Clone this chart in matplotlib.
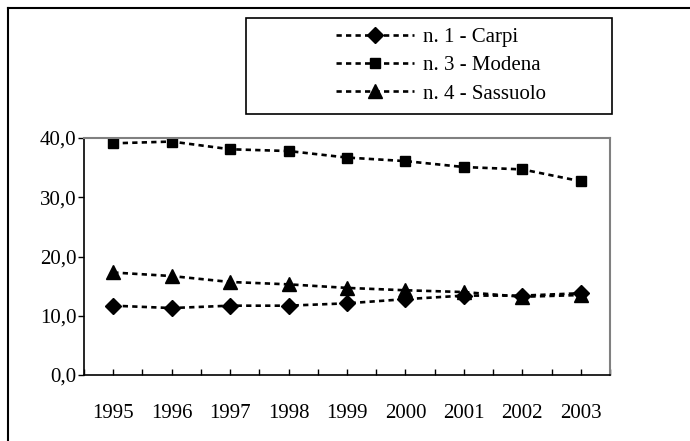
import matplotlib.pyplot as plt
import numpy as np
from matplotlib.lines import Line2D
from matplotlib.patches import Rectangle
from matplotlib.ticker import FuncFormatter

plt.rcParams['font.family'] = ['Liberation Serif', 'DejaVu Serif']

# Dati
anni = ['1995', '1996', '1997', '1998', '1999', '2000', '2001', '2002', '2003']
carpi = [11.7, 11.3, 11.7, 11.7, 12.1, 12.8, 13.4, 13.4, 13.8]
modena = [39.1, 39.4, 38.1, 37.8, 36.7, 36.1, 35.1, 34.7, 32.7]
sassuolo = [17.3, 16.7, 15.7, 15.3, 14.7, 14.3, 14.0, 13.2, 13.5]

serie = [
    ('n. 1 - Carpi', carpi, 'D', 8.5),
    ('n. 3 - Modena', modena, 's', 7.5),
    ('n. 4 - Sassuolo', sassuolo, '^', 9.5),
]

W, H = 690, 441
fig = plt.figure(figsize=(W / 100, H / 100), dpi=100)
ax = fig.add_axes([84 / W, 1 - 375 / H, (610 - 84) / W, (375 - 138) / H])

x = np.arange(len(anni))
for nome, valori, marker, ms in serie:
    ax.plot(x, valori, color='black', lw=1.9, linestyle=(0, (2.0, 1.6)),
            marker=marker, markersize=ms, label=nome)

ax.set_xlim(-0.5, len(anni) - 0.5)
ax.set_ylim(0, 40)
ax.set_yticks([0, 10, 20, 30, 40])
ax.yaxis.set_major_formatter(FuncFormatter(lambda v, p: f'{v:.1f}'.replace('.', ',')))
ax.set_xticks(x)
ax.set_xticklabels(anni)
ax.set_xticks(np.arange(-0.5, len(anni), 1.0), minor=True)

ax.tick_params(axis='y', direction='out', length=4.5, width=1, pad=1, labelsize=15)
ax.tick_params(axis='x', which='both', direction='in', length=4, width=1,
               pad=21, labelsize=15)

for s in ['left', 'bottom']:
    ax.spines[s].set_color('black')
    ax.spines[s].set_linewidth(1.2)
for s in ['top', 'right']:
    ax.spines[s].set_color('#808080')
    ax.spines[s].set_linewidth(1.5)

# Legenda
fig.add_artist(Rectangle((246, H - 114), 366, 96, transform=None,
                         fill=False, edgecolor='black', lw=1.2))
leg = fig.legend(loc='upper left', bbox_to_anchor=(326 / W, 1 - 17 / H),
                 frameon=False, borderpad=0, handlelength=3.7,
                 handletextpad=0.45, labelspacing=0.42, fontsize=15)

# Cornice esterna
fig.add_artist(Line2D([8, W], [H - 8, H - 8], transform=None, color='black', lw=1.5))
fig.add_artist(Line2D([8, 8], [0, H - 8], transform=None, color='black', lw=1.5))

fig.savefig('out.png', dpi=100)
